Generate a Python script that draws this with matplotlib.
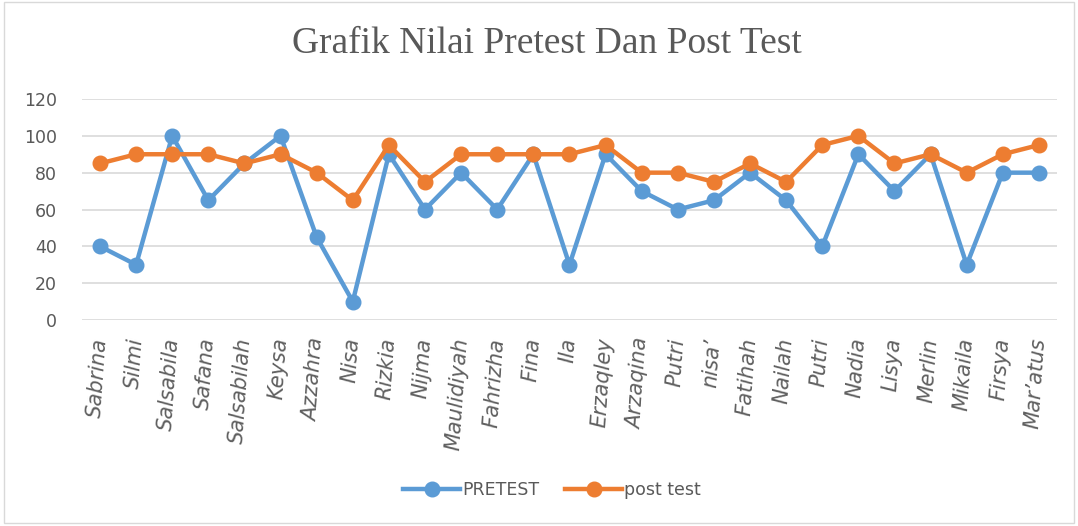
import matplotlib.pyplot as plt
from matplotlib.patches import Rectangle

names = ['Sabrina', 'Silmi', 'Salsabila', 'Safana', 'Salsabilah', 'Keysa', 'Azzahra', 'Nisa',
         'Rizkia', 'Nijma', 'Maulidiyah', 'Fahrizha', 'Fina', 'Ila', 'Erzaqley', 'Arzaqina',
         'Putri', 'nisa\u2019', 'Fatihah', 'Nailah', 'Putri', 'Nadia', 'Lisya', 'Merlin',
         'Mikaila', 'Firsya', 'Mar\u2019atus']
pretest = [40, 30, 100, 65, 85, 100, 45, 10, 90, 60, 80, 60, 90, 30, 90, 70,
           60, 65, 80, 65, 40, 90, 70, 90, 30, 80, 80]
post_test = [85, 90, 90, 90, 85, 90, 80, 65, 95, 75, 90, 90, 90, 90, 95, 80,
             80, 75, 85, 75, 95, 100, 85, 90, 80, 90, 95]

fig = plt.figure(figsize=(10.78, 5.26), dpi=100)
ax = fig.add_axes([0.076, 0.3916, 0.9045, 0.4202])

x = list(range(len(names)))
ax.plot(x, pretest, color='#5B9BD5', lw=3.2, marker='o', ms=10.5, label='PRETEST')
ax.plot(x, post_test, color='#ED7D31', lw=3.2, marker='o', ms=10.5, label='post test')

ax.set_xlim(-0.5, len(names) - 0.5)
ax.set_ylim(0, 120)
ax.set_yticks(range(0, 121, 20))
ax.yaxis.grid(True, color='#D9D9D9', lw=1.2)
ax.set_axisbelow(True)
for s in ax.spines.values():
    s.set_visible(False)
ax.tick_params(axis='both', length=0, labelsize=12.5, colors='#595959')
ax.tick_params(axis='y', pad=18)
ax.set_xticks(x)
ax.set_xticklabels(names, rotation=86, style='italic', ha='right', va='center',
                   rotation_mode='anchor', fontsize=15, color='#5f5f5f')
ax.tick_params(axis='x', pad=13)

fig.text(0.507, 0.916, 'Grafik Nilai Pretest Dan Post Test', ha='center', va='center',
         fontsize=27, family='Liberation Serif', color='#595959')

ax.legend(loc='center', bbox_to_anchor=(0.482, -0.77), ncol=2, frameon=False,
          fontsize=12.5, labelcolor='#595959', handlelength=3.3, columnspacing=1.5,
          handletextpad=0.1)

fig.patches.append(Rectangle((0.004, 0.006), 0.992, 0.99, transform=fig.transFigure,
                             fill=False, edgecolor='#D9D9D9', lw=1))

fig.savefig('out.png', dpi=100)
